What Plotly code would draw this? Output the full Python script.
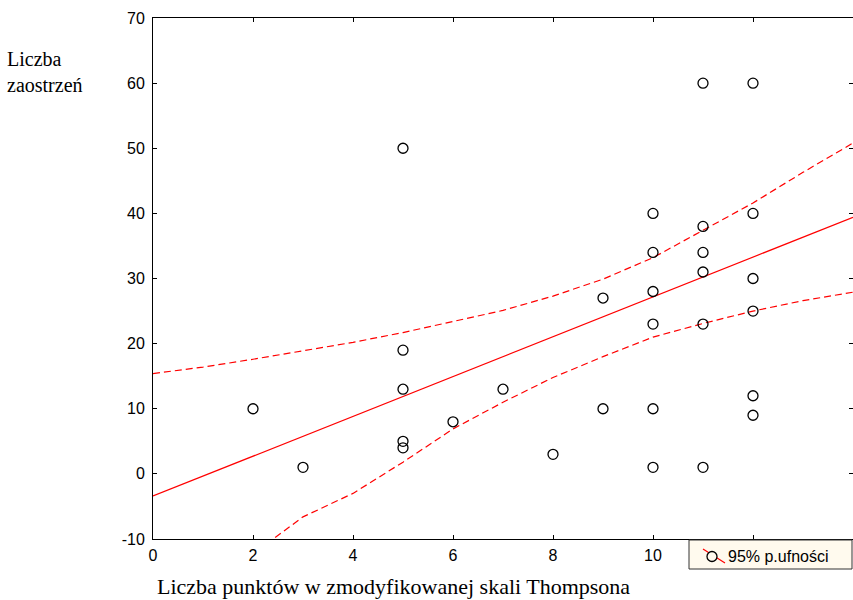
import plotly.graph_objects as go

# ---- data ----
x_points = [2, 3, 5, 5, 5, 5, 5, 6, 7, 8, 9, 9,
            10, 10, 10, 10, 10, 10,
            11, 11, 11, 11, 11, 11,
            12, 12, 12, 12, 12, 12]
y_points = [10, 1, 50, 19, 13, 5, 4, 8, 13, 3, 27, 10,
            40, 34, 28, 23, 10, 1,
            60, 38, 34, 31, 23, 1,
            60, 40, 30, 25, 12, 9]

fit_x = [0, 14]
fit_y = [-3.4, 39.4]

upper_x = [0, 1, 2, 3, 4, 5, 6, 7, 8, 9, 10, 11, 12, 13, 14]
upper_y = [15.4, 16.4, 17.6, 18.9, 20.2, 21.7, 23.4, 25.1, 27.3, 29.9, 33.2, 37.4, 41.6, 46.3, 50.8]

lower_x = [1, 2, 3, 4, 5, 6, 7, 8, 9, 10, 11, 12, 13, 14]
lower_y = [-17.5, -12.3, -6.6, -3.0, 1.8, 6.9, 11.0, 14.8, 18.0, 21.0, 23.1, 25.0, 26.6, 27.9]

x_ticks = [0, 2, 4, 6, 8, 10, 12, 14]
x_tick_labels = ["0", "2", "4", "6", "8", "10", "", ""]  # 12 and 14 hidden behind the legend
y_ticks = [-10, 0, 10, 20, 30, 40, 50, 60, 70]

y_title = "Liczba<br>zaostrzeń"
x_title = "Liczba punktów w zmodyfikowanej skali Thompsona"
legend_label = "95% p.ufności"

# ---- layout geometry ----
W, H = 853, 600
ML, MR, MT, MB = 153, 0, 18, 61
PW, PH = W - ML - MR, H - MT - MB


def px(xp):
    return (xp - ML) / PW


def py(yp):
    return (H - MB - yp) / PH


RED = "#ff0000"
fig = go.Figure()

fig.add_trace(go.Scatter(x=upper_x, y=upper_y, mode="lines",
                         line=dict(color=RED, width=1.2, dash="7px,4px"),
                         showlegend=False, hoverinfo="skip"))
fig.add_trace(go.Scatter(x=lower_x, y=lower_y, mode="lines",
                         line=dict(color=RED, width=1.2, dash="7px,4px"),
                         showlegend=False, hoverinfo="skip"))
fig.add_trace(go.Scatter(x=fit_x, y=fit_y, mode="lines",
                         line=dict(color=RED, width=1.2),
                         showlegend=False))
fig.add_trace(go.Scatter(x=x_points, y=y_points, mode="markers",
                         marker=dict(symbol="circle-open", size=10, color="black",
                                     line=dict(width=1.3, color="black")),
                         showlegend=False))

sans = dict(family="Liberation Sans, Arial", size=16, color="black")
axis_common = dict(showgrid=False, zeroline=False, showline=True, linecolor="black",
                   linewidth=1, mirror="ticks", ticks="inside", ticklen=4,
                   tickcolor="black", tickwidth=1, tickfont=sans)

fig.update_xaxes(range=[0, 14], tickvals=x_ticks, ticktext=x_tick_labels,
                 ticklabelstandoff=2, **axis_common)
fig.update_yaxes(range=[-10, 70], tickvals=y_ticks,
                 ticktext=[str(v) for v in y_ticks], ticklabelstandoff=4, **axis_common)

serif = dict(family="Liberation Serif, Times New Roman", size=22, color="black")
serif_y = dict(family="Liberation Serif, Times New Roman", size=20, color="black")

annotations = [
    dict(text=y_title, xref="paper", yref="paper",
         x=px(6), y=py(72), xanchor="left", yanchor="middle", align="left",
         borderpad=0, showarrow=False, font=serif_y),
    dict(text=x_title, xref="paper", yref="paper",
         x=px(156), y=py(600), xanchor="left", yanchor="bottom",
         borderpad=0, showarrow=False, font=serif),
    dict(text=legend_label, xref="paper", yref="paper",
         x=px(726), y=py(556), xanchor="left", yanchor="middle",
         showarrow=False, font=sans),
]

shapes = [
    dict(type="rect", xref="paper", yref="paper",
         x0=px(689), x1=px(852), y0=py(569), y1=py(540),
         fillcolor="#fffaee", line=dict(color="#333333", width=1), layer="above"),
    dict(type="line", xref="paper", yref="paper",
         x0=px(703), y0=py(549), x1=px(725), y1=py(563),
         line=dict(color=RED, width=1.2), layer="above"),
    dict(type="circle", xref="paper", yref="paper",
         x0=px(707), x1=px(717), y0=py(561.5), y1=py(551.5),
         fillcolor="#fffaee", line=dict(color="black", width=1.3), layer="above"),
]

fig.update_layout(width=W, height=H, margin=dict(l=ML, r=MR, t=MT, b=MB),
                  paper_bgcolor="white", plot_bgcolor="white",
                  showlegend=False, annotations=annotations, shapes=shapes)

fig.write_html("out.html")
